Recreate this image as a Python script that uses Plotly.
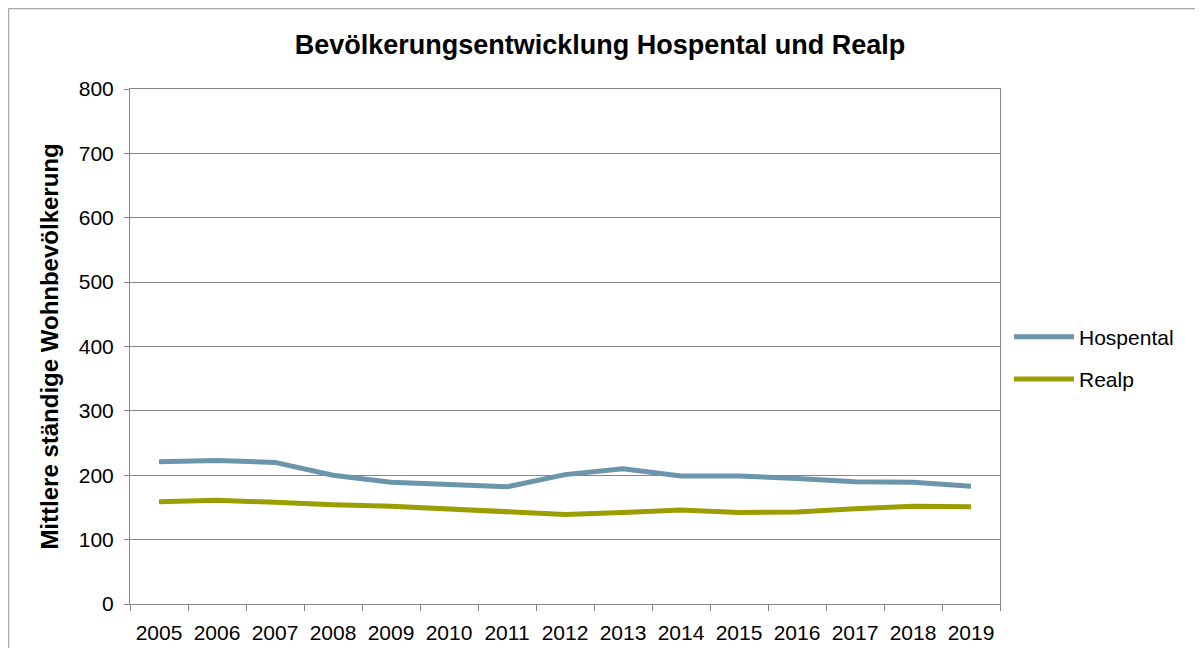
import plotly.graph_objects as go

years = [str(y) for y in range(2005, 2020)]
hospental = [221, 223, 220, 200, 189, 185, 182, 201, 210, 199, 199, 195, 190, 189, 183]
realp = [159, 161, 158, 154, 152, 148, 143, 139, 142, 146, 142, 143, 148, 152, 151]

y_ticks = list(range(0, 801, 100))

font_family = 'Liberation Sans, Arial, sans-serif'
grid_color = '#878787'

# plot area in figure pixels (page body adds an 8px offset)
L, R, T, B = 122, 992, 81, 596
W, H = 1203, 648

fig = go.Figure()
fig.add_trace(go.Scatter(
    x=years, y=hospental, name='Hospental', mode='lines',
    line=dict(color='#6b95aa', width=5), legendgroup='h',
))
fig.add_trace(go.Scatter(
    x=years, y=realp, name='Realp', mode='lines',
    line=dict(color='#9a9e00', width=5), legendgroup='r',
))

fig.update_layout(
    width=W, height=H,
    paper_bgcolor='white', plot_bgcolor='white',
    margin=dict(l=L, r=W - R, t=T, b=H - B, autoexpand=False),
    font=dict(family=font_family, color='black', size=21),
    title=dict(
        text='<b>Bevölkerungsentwicklung Hospental und Realp</b>',
        x=(600 - 8) / W, xref='container', xanchor='center',
        y=1 - 37 / H, yanchor='middle',
        font=dict(size=27),
    ),
    showlegend=True,
    legend=dict(
        x=(1001 - L) / (R - L), xanchor='left',
        y=(B - 350) / (B - T), yanchor='middle',
        font=dict(size=21), tracegroupgap=12, itemwidth=60,
    ),
    xaxis=dict(
        type='category', range=[-0.5, 14.5],
        showgrid=False, showline=True, linecolor=grid_color, linewidth=1,
        mirror=True, ticks='outside', tickson='boundaries',
        ticklen=6, tickcolor=grid_color, tickfont=dict(size=21),
        ticklabelstandoff=10,
    ),
    yaxis=dict(
        range=[0, 800], tickvals=y_ticks,
        showgrid=True, gridcolor=grid_color, gridwidth=1,
        showline=True, linecolor=grid_color, linewidth=1, mirror=True,
        ticks='outside', ticklen=5, tickcolor=grid_color,
        tickfont=dict(size=21), zeroline=False, ticklabelstandoff=6,
        title=dict(text='<b>Mittlere ständige Wohnbevölkerung</b>',
                   font=dict(size=24), standoff=13),
    ),
)

# outer chart frame (top and left edges visible in the crop)
fy = (B - 0.5) / (B - T)
fx = (0.5 - L) / (R - L)
fig.add_shape(type='line', xref='paper', yref='paper',
              x0=fx, x1=(W - L) / (R - L), y0=fy, y1=fy,
              line=dict(color='#a6a6a6', width=1.5))
fig.add_shape(type='line', xref='paper', yref='paper',
              x0=fx, x1=fx, y0=fy, y1=(B - H) / (B - T),
              line=dict(color='#a6a6a6', width=1.5))

fig.write_html('out.html')
